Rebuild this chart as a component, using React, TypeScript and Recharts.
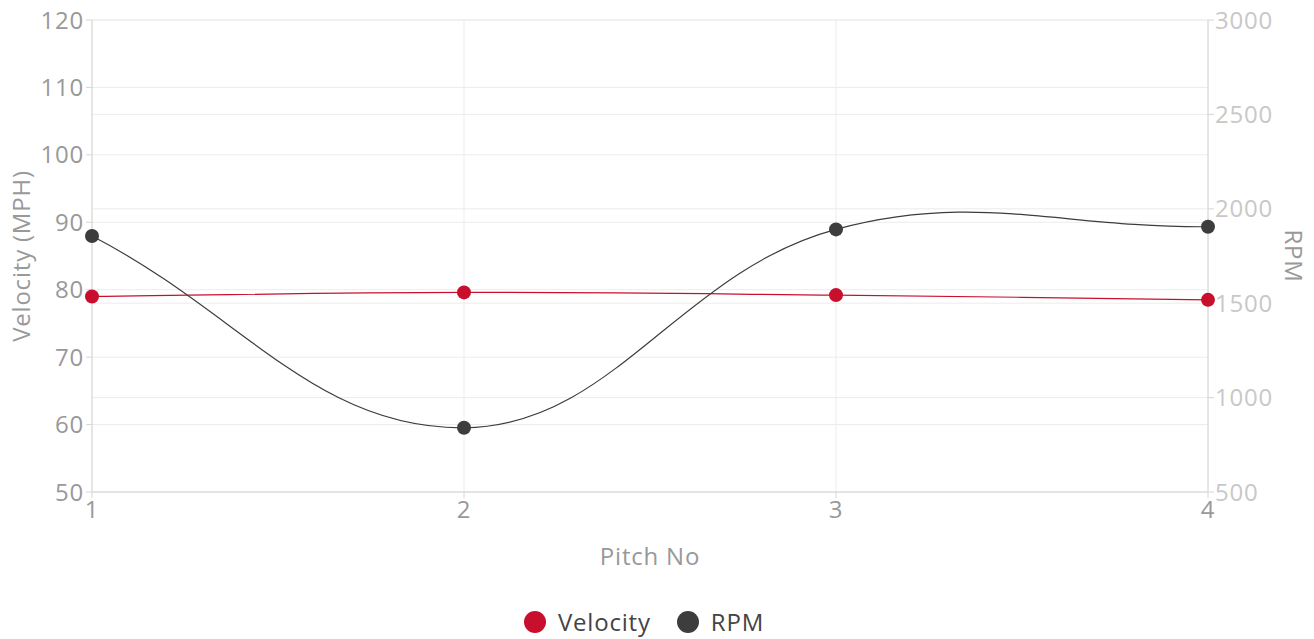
import React from 'react';
import { LineChart, Line, XAxis, YAxis, CartesianGrid, Legend } from 'recharts';

// Pitch numbers and the two measured series
const pitches = [1, 2, 3, 4];
const velocity = [79.0, 79.6, 79.2, 78.5];
const rpm = [1856, 840, 1891, 1905];

const velocityTicks = [50, 60, 70, 80, 90, 100, 110, 120];
const rpmTicks = [500, 1000, 1500, 2000, 2500, 3000];

const data = pitches.map((p, i) => ({ pitch: p, velocity: velocity[i], rpm: rpm[i] }));

const FONT = '"Open Sans", Lato, sans-serif';
const FS = 24;
const LS = 0.8;
const VEL_COLOR = '#c8102e';
const RPM_COLOR = '#3d3d3d';

// Cardinal-style spline with tension 0.4 (control points scaled by neighbour distances)
function tensionSpline(context: any) {
  let pts: [number, number][] = [];
  return {
    areaStart() {},
    areaEnd() {},
    lineStart() {
      pts = [];
    },
    point(x: number, y: number) {
      pts.push([+x, +y]);
    },
    lineEnd() {
      const n = pts.length;
      if (!n) return;
      const t = 0.4;
      const cps = pts.map((p, i) => {
        const prev = pts[i - 1] ?? p;
        const next = pts[i + 1] ?? p;
        const d01 = Math.hypot(p[0] - prev[0], p[1] - prev[1]);
        const d12 = Math.hypot(next[0] - p[0], next[1] - p[1]);
        let s01 = d01 / (d01 + d12);
        let s12 = d12 / (d01 + d12);
        if (isNaN(s01)) s01 = 0;
        if (isNaN(s12)) s12 = 0;
        const fa = t * s01;
        const fb = t * s12;
        return {
          prev: [p[0] - fa * (next[0] - prev[0]), p[1] - fa * (next[1] - prev[1])],
          next: [p[0] + fb * (next[0] - prev[0]), p[1] + fb * (next[1] - prev[1])],
        };
      });
      context.moveTo(pts[0][0], pts[0][1]);
      for (let i = 1; i < n; i++) {
        context.bezierCurveTo(
          cps[i - 1].next[0], cps[i - 1].next[1],
          cps[i].prev[0], cps[i].prev[1],
          pts[i][0], pts[i][1]
        );
      }
    },
  };
}

const LeftTitle = (props: any) => {
  const { viewBox } = props;
  const cx = viewBox.x + 20;
  const cy = viewBox.y + viewBox.height / 2;
  return (
    <text x={cx} y={cy} transform={`rotate(-90 ${cx} ${cy})`} textAnchor="middle" dominantBaseline="central"
      fill="#999" fontSize={FS} letterSpacing={LS} fontFamily={FONT}>
      Velocity (MPH)
    </text>
  );
};

const RightTitle = (props: any) => {
  const { viewBox } = props;
  const cx = viewBox.x + 86;
  const cy = viewBox.y + viewBox.height / 2;
  return (
    <text x={cx} y={cy} transform={`rotate(90 ${cx} ${cy})`} textAnchor="middle" dominantBaseline="central"
      fill="#999" fontSize={FS} letterSpacing={LS} fontFamily={FONT}>
      RPM
    </text>
  );
};

const legendItems = [
  { name: 'Velocity', color: VEL_COLOR },
  { name: 'RPM', color: RPM_COLOR },
];

const LegendContent = () => (
  <div style={{ height: 55, paddingTop: 27, paddingRight: 26, boxSizing: 'border-box', display: 'flex', justifyContent: 'center', fontFamily: FONT }}>
    {legendItems.map((it) => (
      <div key={it.name} style={{ display: 'flex', alignItems: 'center', height: 22, margin: '0 13px' }}>
        <span style={{ width: 22, height: 22, borderRadius: '50%', background: it.color, display: 'inline-block', marginRight: 12 }} />
        <span style={{ fontSize: FS, letterSpacing: LS, color: '#444', lineHeight: '22px' }}>{it.name}</span>
      </div>
    ))}
  </div>
);

const tickStyle = { fill: '#999', fontSize: FS, fontFamily: FONT, letterSpacing: LS };

export default function App() {
  return (
    <div style={{ position: 'absolute', left: 0, top: 0, background: '#fff' }}>
      <LineChart width={1314} height={639} data={data} margin={{ top: 20, right: 0, bottom: 0, left: 0 }}>
        <CartesianGrid yAxisId="left" stroke="#ececec" strokeWidth={1} vertical horizontal />
        <CartesianGrid yAxisId="right" stroke="#ececec" strokeWidth={1} vertical={false} horizontal />
        <XAxis
          dataKey="pitch"
          type="number"
          domain={[1, 4]}
          ticks={pitches}
          height={92}
          stroke="#d6d6d6"
          tickSize={6}
          tickMargin={3}
          tick={tickStyle}
          label={{ value: 'Pitch No', position: 'insideBottom', offset: 19, fill: '#999', fontSize: FS, fontFamily: FONT, letterSpacing: LS }}
        />
        <YAxis
          yAxisId="left"
          orientation="left"
          domain={[50, 120]}
          ticks={velocityTicks}
          width={92}
          stroke="#d6d6d6"
          tickSize={6}
          tickMargin={2}
          tick={tickStyle}
          label={<LeftTitle />}
        />
        <YAxis
          yAxisId="right"
          orientation="right"
          domain={[500, 3000]}
          ticks={rpmTicks}
          width={106}
          stroke="#d6d6d6"
          tickSize={6}
          tickMargin={1}
          tick={{ ...tickStyle, fill: '#c8c8c8' }}
          label={<RightTitle />}
        />
        <Legend verticalAlign="bottom" content={<LegendContent />} />
        <Line
          yAxisId="left"
          dataKey="velocity"
          type={tensionSpline as any}
          stroke={VEL_COLOR}
          strokeWidth={1.2}
          dot={{ r: 7, fill: VEL_COLOR, stroke: VEL_COLOR, strokeWidth: 0 }}
          isAnimationActive={false}
        />
        <Line
          yAxisId="right"
          dataKey="rpm"
          type={tensionSpline as any}
          stroke={RPM_COLOR}
          strokeWidth={1.2}
          dot={{ r: 7, fill: RPM_COLOR, stroke: RPM_COLOR, strokeWidth: 0 }}
          isAnimationActive={false}
        />
      </LineChart>
    </div>
  );
}
